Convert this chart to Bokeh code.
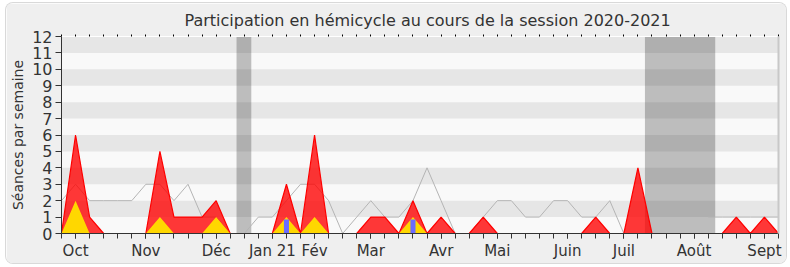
from bokeh.plotting import figure
from bokeh.models import Range1d, FixedTicker, SingleIntervalTicker, LinearAxis, InlineStyleSheet
from bokeh.embed import file_html
from bokeh.resources import INLINE

nan = float("nan")

# week index of the session (one point per week)
weeks = list(range(52))

# total sessions attended per week (red area)
presence = [0, 6, 1, 0, 0, 0, 0, 5, 1, 1, 1, 2, 0, 0, 0, 0, 3, 0, 6, 0,
            0, 0, 1, 1, 0, 2, 0, 1, 0, 0, 1, 0, 0, 0, 0, 0, 0, 0, 1, 0,
            0, 4, 0, 0, 0, 0, 0, 0, 1, 0, 1, 0]

# committee / secondary participation (yellow area)
commission = [0, 2, 0, 0, 0, 0, 0, 1, 0, 0, 0, 1, 0, 0, 0, 0, 1, 0, 1, 0,
              0, 0, 0, 0, 0, 1, 0, 0, 0, 0, 0, 0, 0, 0, 0, 0, 0, 0, 0, 0,
              0, 0, 0, 0, 0, 0, 0, 0, 0, 0, 0, 0]

# interventions (blue bars)
blue_weeks = [16, 25]
blue_values = [0.85, 0.85]

# median of all deputies (grey line)
median = [2, 3, 2, 2, 2, 2, 3, 3, 2, 3, 1, 1, 0, 0, 1, 1, 2, 3, 3, 2,
          0, 1, 2, 1, 1, 2, 4, 2, 0, 0, 1, 2, 2, 1, 1, 2, 2, 1, 1, 2,
          0, nan, nan, nan, nan, nan, 1, 1, 1, 1, 1, 1]

# parliamentary holidays
vac_start = [12.45, 41.5]
vac_end = [13.5, 46.5]

# month tick labels
month_weeks = [1, 6, 11, 15, 18, 22, 27, 31, 36, 40, 45, 50]
month_names = ["Oct", "Nov", "Déc", "Jan 21", "Fév", "Mar", "Avr", "Mai",
               "Juin", "Juil", "Août", "Sept"]

FONT = "DejaVu Sans"
TXT = "#333333"

css = InlineStyleSheet(css=":host{border-radius:7px;overflow:hidden;box-shadow:0 0 0 1px #d9d9d9;}")

p = figure(width=780, height=260, x_range=Range1d(0, 51), y_range=Range1d(0, 12),
           output_backend="svg", toolbar_location=None,
           min_border_left=55, min_border_right=8, min_border_top=33, min_border_bottom=30,
           background_fill_color="#f9f9f9", border_fill_color="#efefef",
           outline_line_color=None, margin=(3, 4, 4, 6), stylesheets=[css])

p.title.text = "Participation en hémicycle au cours de la session 2020-2021"
p.title.align = "left"
p.title.offset = 123
p.title.text_font = FONT
p.title.text_font_size = "16px"
p.title.text_font_style = "normal"
p.title.text_color = TXT

p.xgrid.visible = False
p.ygrid.grid_line_color = None
p.ygrid.band_fill_color = "#e6e6e6"
p.ygrid.band_fill_alpha = 1.0

# holidays
p.quad(left=vac_start, right=vac_end, bottom=p.y_range.start, top=p.y_range.end,
       fill_color="black", fill_alpha=0.24, line_color=None)

# median line
p.line(weeks, median, line_color="#b4b4b4", line_width=1)

# presence area
p.varea(x=weeks, y1=0, y2=presence, fill_color="#ff0000", fill_alpha=0.78)
p.line(weeks, presence, line_color="#ff0000", line_width=1.2)

# commission area
p.varea(x=weeks, y1=0, y2=commission, fill_color="#ffd700", fill_alpha=1.0)

# blue bars
p.vbar(x=blue_weeks, top=blue_values, width=0.36, fill_color="#6b6bff", line_color=None)

# axes
yax = p.yaxis[0]
yax.ticker = SingleIntervalTicker(interval=1, num_minor_ticks=0)
yax.axis_label = "Séances par semaine"
yax.axis_label_text_font = FONT
yax.axis_label_text_font_size = "14px"
yax.axis_label_text_font_style = "normal"
yax.axis_label_text_color = TXT
yax.axis_label_standoff = 3
yax.major_label_text_font = FONT
yax.major_label_text_font_size = "16px"
yax.major_label_text_color = TXT
yax.major_label_standoff = 3
yax.axis_line_color = TXT
yax.major_tick_line_color = TXT
yax.major_tick_in = 0
yax.major_tick_out = 6
yax.minor_tick_line_color = None

xax = p.xaxis[0]
xax.ticker = FixedTicker(ticks=month_weeks, minor_ticks=weeks)
xax.major_label_overrides = {w: n for w, n in zip(month_weeks, month_names)}
xax.major_label_text_font = FONT
xax.major_label_text_font_size = "15px"
xax.major_label_text_color = TXT
xax.major_label_standoff = 3
xax.axis_line_color = TXT
xax.major_tick_line_color = TXT
xax.major_tick_in = 0
xax.major_tick_out = 5
xax.minor_tick_line_color = TXT
xax.minor_tick_in = 0
xax.minor_tick_out = 5

top = LinearAxis(ticker=FixedTicker(ticks=[], minor_ticks=weeks), axis_line_color="white",
                 major_tick_line_color=None, minor_tick_line_color="black",
                 minor_tick_in=0, minor_tick_out=2, major_label_standoff=0)
p.add_layout(top, "above")

right = LinearAxis(ticker=FixedTicker(ticks=[], minor_ticks=[]),
                   axis_line_color="#c8c8c8", axis_line_width=2,
                   major_tick_line_color=None, minor_tick_line_color=None,
                   major_label_standoff=0)
p.add_layout(right, "right")

open("out.html", "w").write(file_html(p, INLINE))
